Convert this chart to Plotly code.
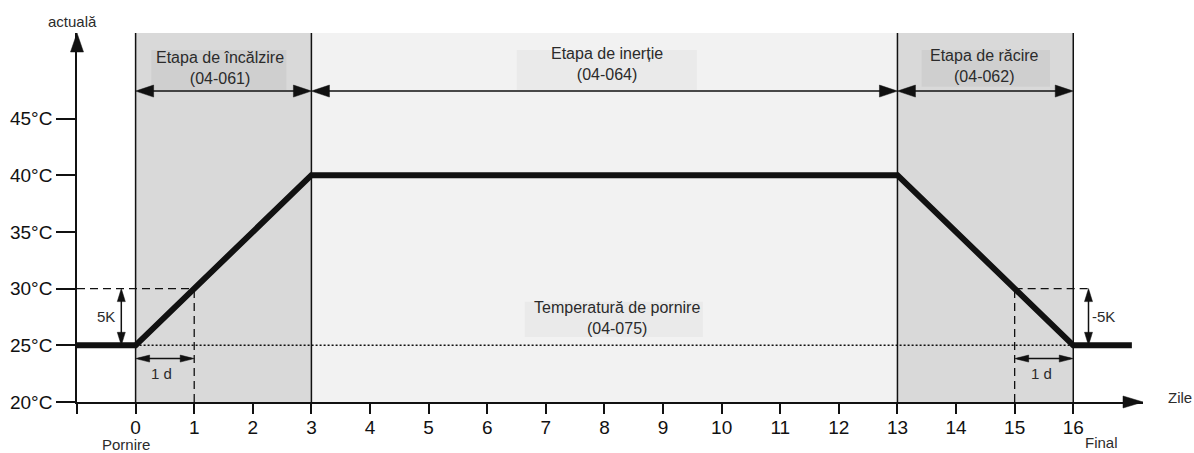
import plotly.graph_objects as go

# Temperature profile of the programme (day, °C)
profile_days = [-1, 0, 3, 13, 16, 17]
profile_temp = [25, 25, 40, 40, 25, 25]

# Stage boundaries (days) and stage texts
stage_edges = [0, 3, 13, 16]
stage_names = ["Etapa de încălzire", "Etapa de inerție", "Etapa de răcire"]
stage_codes = ["(04-061)", "(04-064)", "(04-062)"]

start_temp = 25          # °C, parameter 04-075
step_k = 5               # K rise/fall within one day
start_label = ["Temperatură de pornire", "(04-075)"]

x_ticks = list(range(-1, 17))
x_tick_labels = [""] + [str(d) for d in range(0, 17)]
y_ticks = [20, 25, 30, 35, 40, 45]
y_tick_labels = [f"{v}°C" for v in y_ticks]

# ---- styling -------------------------------------------------------------
FONT = "Arial, Liberation Sans, sans-serif"
INK = "#111111"
TXT = "#2b2b2b"
FILL_DARK = "#d9d9d9"
FILL_LIGHT = "#f2f2f2"
BOX_DARK = "#cfcfcf"
BOX_LIGHT = "#eaeaea"
stage_fills = [FILL_DARK, FILL_LIGHT, FILL_DARK]
stage_boxes = [BOX_DARK, BOX_LIGHT, BOX_DARK]

X_MIN, X_MAX = -1, 17.19
Y_MIN, Y_MAX = 20, 52.54
ARROW_Y = 47.42          # level of the stage-span arrows


def px_x(x):
    """Data x -> paper fraction (for marks outside the axis range)."""
    return (x - X_MIN) / (X_MAX - X_MIN)


def px_y(y):
    return (y - Y_MIN) / (Y_MAX - Y_MIN)


fig = go.Figure()

shapes = []
annotations = []


def head(x, y, direction, length, half, ref="data"):
    """Filled triangular arrow head with its tip at (x, y), sized in px."""
    if direction == "right":
        path = f"M0,0 L{-length},{half} L{-length},{-half} Z"
    elif direction == "left":
        path = f"M0,0 L{length},{half} L{length},{-half} Z"
    elif direction == "up":
        path = f"M0,0 L{-half},{-length} L{half},{-length} Z"
    else:
        path = f"M0,0 L{-half},{length} L{half},{length} Z"
    if ref == "paper":
        xr, yr, xa, ya = "paper", "paper", px_x(x), px_y(y)
    else:
        xr, yr, xa, ya = "x", "y", x, y
    return dict(type="path", xref=xr, yref=yr, xsizemode="pixel", ysizemode="pixel",
                xanchor=xa, yanchor=ya, path=path, fillcolor=INK,
                line=dict(color=INK, width=0.5), layer="above")


def seg(x0, y0, x1, y1, width=1.5, dash="solid", layer="above"):
    return dict(type="line", xref="x", yref="y", x0=x0, y0=y0, x1=x1, y1=y1,
                line=dict(color=INK, width=width, dash=dash), layer=layer)


# stage backgrounds
for i in range(3):
    shapes.append(dict(type="rect", xref="x", yref="y",
                       x0=stage_edges[i], x1=stage_edges[i + 1], y0=Y_MIN, y1=Y_MAX,
                       fillcolor=stage_fills[i], line=dict(width=0), layer="below"))

# label plates behind the stage titles
box_spans = [(0.268, 2.573, 47.51, 51.04), (6.504, 9.577, 47.51, 51.04), (13.412, 15.603, 47.80, 51.04)]
for (bx0, bx1, by0, by1), col in zip(box_spans, stage_boxes):
    shapes.append(dict(type="rect", xref="x", yref="y", x0=bx0, x1=bx1, y0=by0, y1=by1,
                       fillcolor=col, line=dict(width=0), layer="below"))
shapes.append(dict(type="rect", xref="x", yref="y", x0=6.641, x1=9.679, y0=25.74, y1=28.83,
                   fillcolor=BOX_LIGHT, line=dict(width=0), layer="below"))

# stage boundary lines
for e in stage_edges:
    shapes.append(seg(e, Y_MIN, e, Y_MAX, width=1.5))

# stage span arrows
for i in range(3):
    a, b = stage_edges[i], stage_edges[i + 1]
    shapes.append(seg(a + 0.1, ARROW_Y, b - 0.1, ARROW_Y, width=1.6))
    shapes.append(head(a, ARROW_Y, "left", 18, 6))
    shapes.append(head(b, ARROW_Y, "right", 18, 6))

# start temperature (dotted)
shapes.append(seg(stage_edges[0], start_temp, stage_edges[-1], start_temp, width=1.5, dash="2px,2px"))

# +5K within the first day, -5K within the last day
t_step = start_temp + step_k
d_up = stage_edges[0] + 1
d_dn = stage_edges[-1] - 1
shapes.append(seg(X_MIN, t_step, d_up, t_step, width=1.3, dash="8px,5px"))
shapes.append(seg(d_up, Y_MIN, d_up, t_step, width=1.3, dash="8px,5px"))
shapes.append(seg(d_dn, t_step, stage_edges[-1] + 0.25, t_step, width=1.3, dash="8px,5px"))
shapes.append(seg(d_dn, Y_MIN, d_dn, t_step, width=1.3, dash="8px,5px"))

# 5K / -5K dimension arrows
for xk in (-0.244, stage_edges[-1] + 0.26):
    shapes.append(seg(xk, start_temp + 0.3, xk, t_step - 0.3, width=1.5))
    shapes.append(head(xk, t_step, "up", 13, 4))
    shapes.append(head(xk, start_temp, "down", 13, 4))

# 1 d dimension arrows
Y_DAY = 23.83
for a in (stage_edges[0], d_dn):
    shapes.append(seg(a + 0.05, Y_DAY, a + 0.95, Y_DAY, width=1.5))
    shapes.append(head(a, Y_DAY, "left", 14, 3.5))
    shapes.append(head(a + 1, Y_DAY, "right", 14, 3.5))

# axis arrow heads
shapes.append(head(X_MIN, Y_MAX, "up", 19, 6.5, ref="paper"))
shapes.append(head(X_MAX, Y_MIN, "right", 20, 6, ref="paper"))

# temperature curve
fig.add_trace(go.Scatter(x=profile_days, y=profile_temp, mode="lines",
                         line=dict(color=INK, width=6), hoverinfo="skip",
                         showlegend=False, cliponaxis=False))


def note(x, y, text, size=16, color=TXT, xanchor="center", ref="data"):
    if ref == "paper":
        xr, yr, xv, yv = "paper", "paper", px_x(x), px_y(y)
    else:
        xr, yr, xv, yv = "x", "y", x, y
    annotations.append(dict(x=xv, y=yv, xref=xr, yref=yr, text=text, showarrow=False,
                            xanchor=xanchor, yanchor="middle",
                            font=dict(family=FONT, size=size, color=color)))


title_pos = [(1.434, 49.45), (8.04, 49.80), (14.49, 49.65)]
for (tx, ty), name, code in zip(title_pos, stage_names, stage_codes):
    note(tx, ty, f"{name}<br>{code}")
note(8.22, 27.43, "<br>".join(start_label))
note(-0.5, 27.5, f"{step_k}K", size=15)
note(stage_edges[-1] + 0.29, 27.5, f"-{step_k}K", size=15, xanchor="left")
note(0.44, 22.5, "1 d", size=15)
note(d_dn + 0.46, 22.5, "1 d", size=15)
note(-0.17, 16.25, "Pornire", size=15, ref="paper")
note(16.48, 16.42, "Final", size=15, ref="paper")
note(17.82, 20.44, "Zile", size=15, ref="paper")
note(-1.075, 53.54, "actuală", size=15, ref="paper")

fig.update_layout(
    width=1194, height=453,
    margin=dict(l=77.4, r=51, t=33, b=51.3, pad=0, autoexpand=False),
    paper_bgcolor="white", plot_bgcolor="white",
    shapes=shapes, annotations=annotations,
    showlegend=False,
    xaxis=dict(range=[X_MIN, X_MAX], showgrid=False, zeroline=False, automargin=False,
               showline=True, linecolor=INK, linewidth=1.5,
               tickmode="array", tickvals=x_ticks, ticktext=x_tick_labels,
               ticks="outside", ticklen=10, tickwidth=1.5, tickcolor=INK,
               ticklabelstandoff=-3,
               tickfont=dict(family=FONT, size=19, color=INK), fixedrange=True),
    yaxis=dict(range=[Y_MIN, Y_MAX], showgrid=False, zeroline=False, automargin=False,
               showline=True, linecolor=INK, linewidth=1.5,
               tickmode="array", tickvals=y_ticks, ticktext=y_tick_labels,
               ticks="outside", ticklen=19, tickwidth=1.5, tickcolor=INK,
               tickfont=dict(family=FONT, size=19, color=INK), fixedrange=True),
)

fig.write_html("out.html")
